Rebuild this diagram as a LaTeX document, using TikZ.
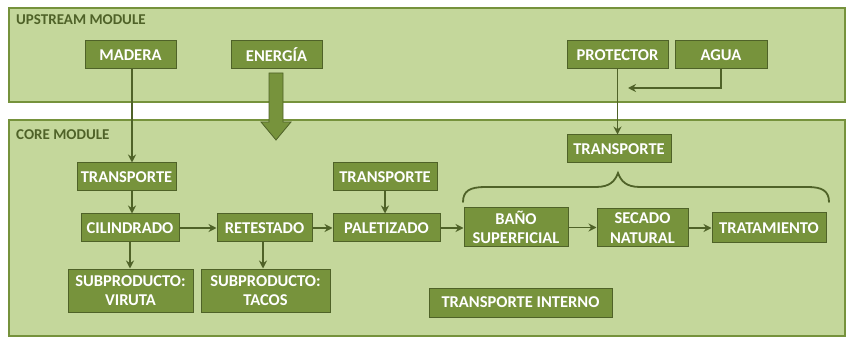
\documentclass[tikz,border=0pt]{standalone}
\usepackage{fontspec}
\setmainfont{Carlito}
\usetikzlibrary{arrows.meta}
\definecolor{bgl}{HTML}{C4D79B}
\definecolor{boxf}{HTML}{77933C}
\definecolor{dk}{HTML}{4F6228}
\definecolor{modb}{HTML}{76923C}
\tikzset{
  module/.style={draw=modb, line width=1.2pt, fill=bgl},
  modtitle/.style={anchor=west, text=dk, font=\bfseries\fontsize{15}{16}\selectfont, inner sep=0pt},
  pbox/.style={draw=dk, line width=1pt, fill=boxf, text=white, font=\bfseries\fontsize{16.5}{19.5}\selectfont, align=center, inner sep=1pt, minimum height=28pt},
  arr/.style={draw=dk, line width=1.5pt, -{Stealth[length=8pt,width=8pt]}},
}
\begin{document}
\begin{tikzpicture}[x=1pt,y=-1pt]
\useasboundingbox (0,0) rectangle (847,342);
% modules
\path[module] (9,8) rectangle (845,102);
\path[module] (9,120) rectangle (845,336);
\node[modtitle] (uptitle) at (16,20) {UPSTREAM MODULE};
\node[modtitle] (coretitle) at (16,135) {CORE MODULE};
% upstream nodes
\node[pbox, minimum width=91pt] (madera) at (130.5,55) {MADERA};
\node[pbox, minimum width=91pt] (energia) at (276.5,55) {ENERGÍA};
\node[pbox, minimum width=101pt] (protector) at (617.5,55) {PROTECTOR};
\node[pbox, minimum width=92pt] (agua) at (721,55) {AGUA};
% core nodes
\node[pbox, minimum width=104pt] (t3) at (619,149) {TRANSPORTE};
\node[pbox, minimum width=99pt] (t1) at (126.5,177) {TRANSPORTE};
\node[pbox, minimum width=104pt] (t2) at (385,177) {TRANSPORTE};
\node[pbox, minimum width=98pt] (cil) at (130,228) {CILINDRADO};
\node[pbox, minimum width=95pt] (ret) at (264.5,228) {RETESTADO};
\node[pbox, minimum width=107pt] (pal) at (386.5,228) {PALETIZADO};
\node[pbox, minimum width=125pt, minimum height=43pt] (viruta) at (130.5,290.5) {SUBPRODUCTO:\\VIRUTA};
\node[pbox, minimum width=129pt, minimum height=43pt] (tacos) at (265.5,290.5) {SUBPRODUCTO:\\TACOS};
\node[pbox, minimum width=104pt, minimum height=39pt] (bano) at (516,227.5) {BAÑO\\SUPERFICIAL};
\node[pbox, minimum width=91pt, minimum height=38pt] (secado) at (642.5,228) {SECADO\\NATURAL};
\node[pbox, minimum width=114pt, minimum height=30pt] (trat) at (769,228) {TRATAMIENTO};
\node[pbox, minimum width=183pt, minimum height=29pt] (tint) at (520.5,302.5) {TRANSPORTE INTERNO};
% connectors
\draw[arr] ([xshift=1.5pt]madera.south) -- ([xshift=1.5pt]madera.south |- t1.north);
\draw[arr] ([xshift=5.5pt]t1.south) -- ([xshift=5.5pt]t1.south |- cil.north);
\draw[arr] (cil.south) -- (cil.south |- viruta.north);
\draw[arr] ([xshift=-1.5pt]ret.south) -- ([xshift=-1.5pt]ret.south |- tacos.north);
\draw[arr] (t2.south) -- (t2.south |- pal.north);
\draw[arr] (cil.east) -- (ret.west);
\draw[arr] (ret.east) -- (pal.west);
\draw[arr] (pal.east) -- (pal.east -| bano.west);
\draw[arr] (bano.east) -- (bano.east -| secado.west);
\draw[arr] (secado.east) -- (trat.west);
\draw[arr] (protector.south) -- (protector.south |- t3.north);
\coordinate (aguaend) at (628,88);
\draw[arr] (agua.south) |- (aguaend);
% big energy arrow
\filldraw[fill=boxf, draw=dk, line width=0.8pt]
  (269,73) -- (283,73) -- (283,122) -- (291,122) -- (276,140) -- (261,122) -- (269,122) -- cycle;
% brace
\draw[dk, line width=1.8pt, line cap=round]
  (463,202) .. controls (463,191) and (470,187) .. (485,187) -- (596,187)
  .. controls (610,187) and (615,181) .. (618,173)
  .. controls (621,181) and (626,187) .. (640,187) -- (808,187)
  .. controls (822,187) and (829,191) .. (829,202);
\end{tikzpicture}
\end{document}
